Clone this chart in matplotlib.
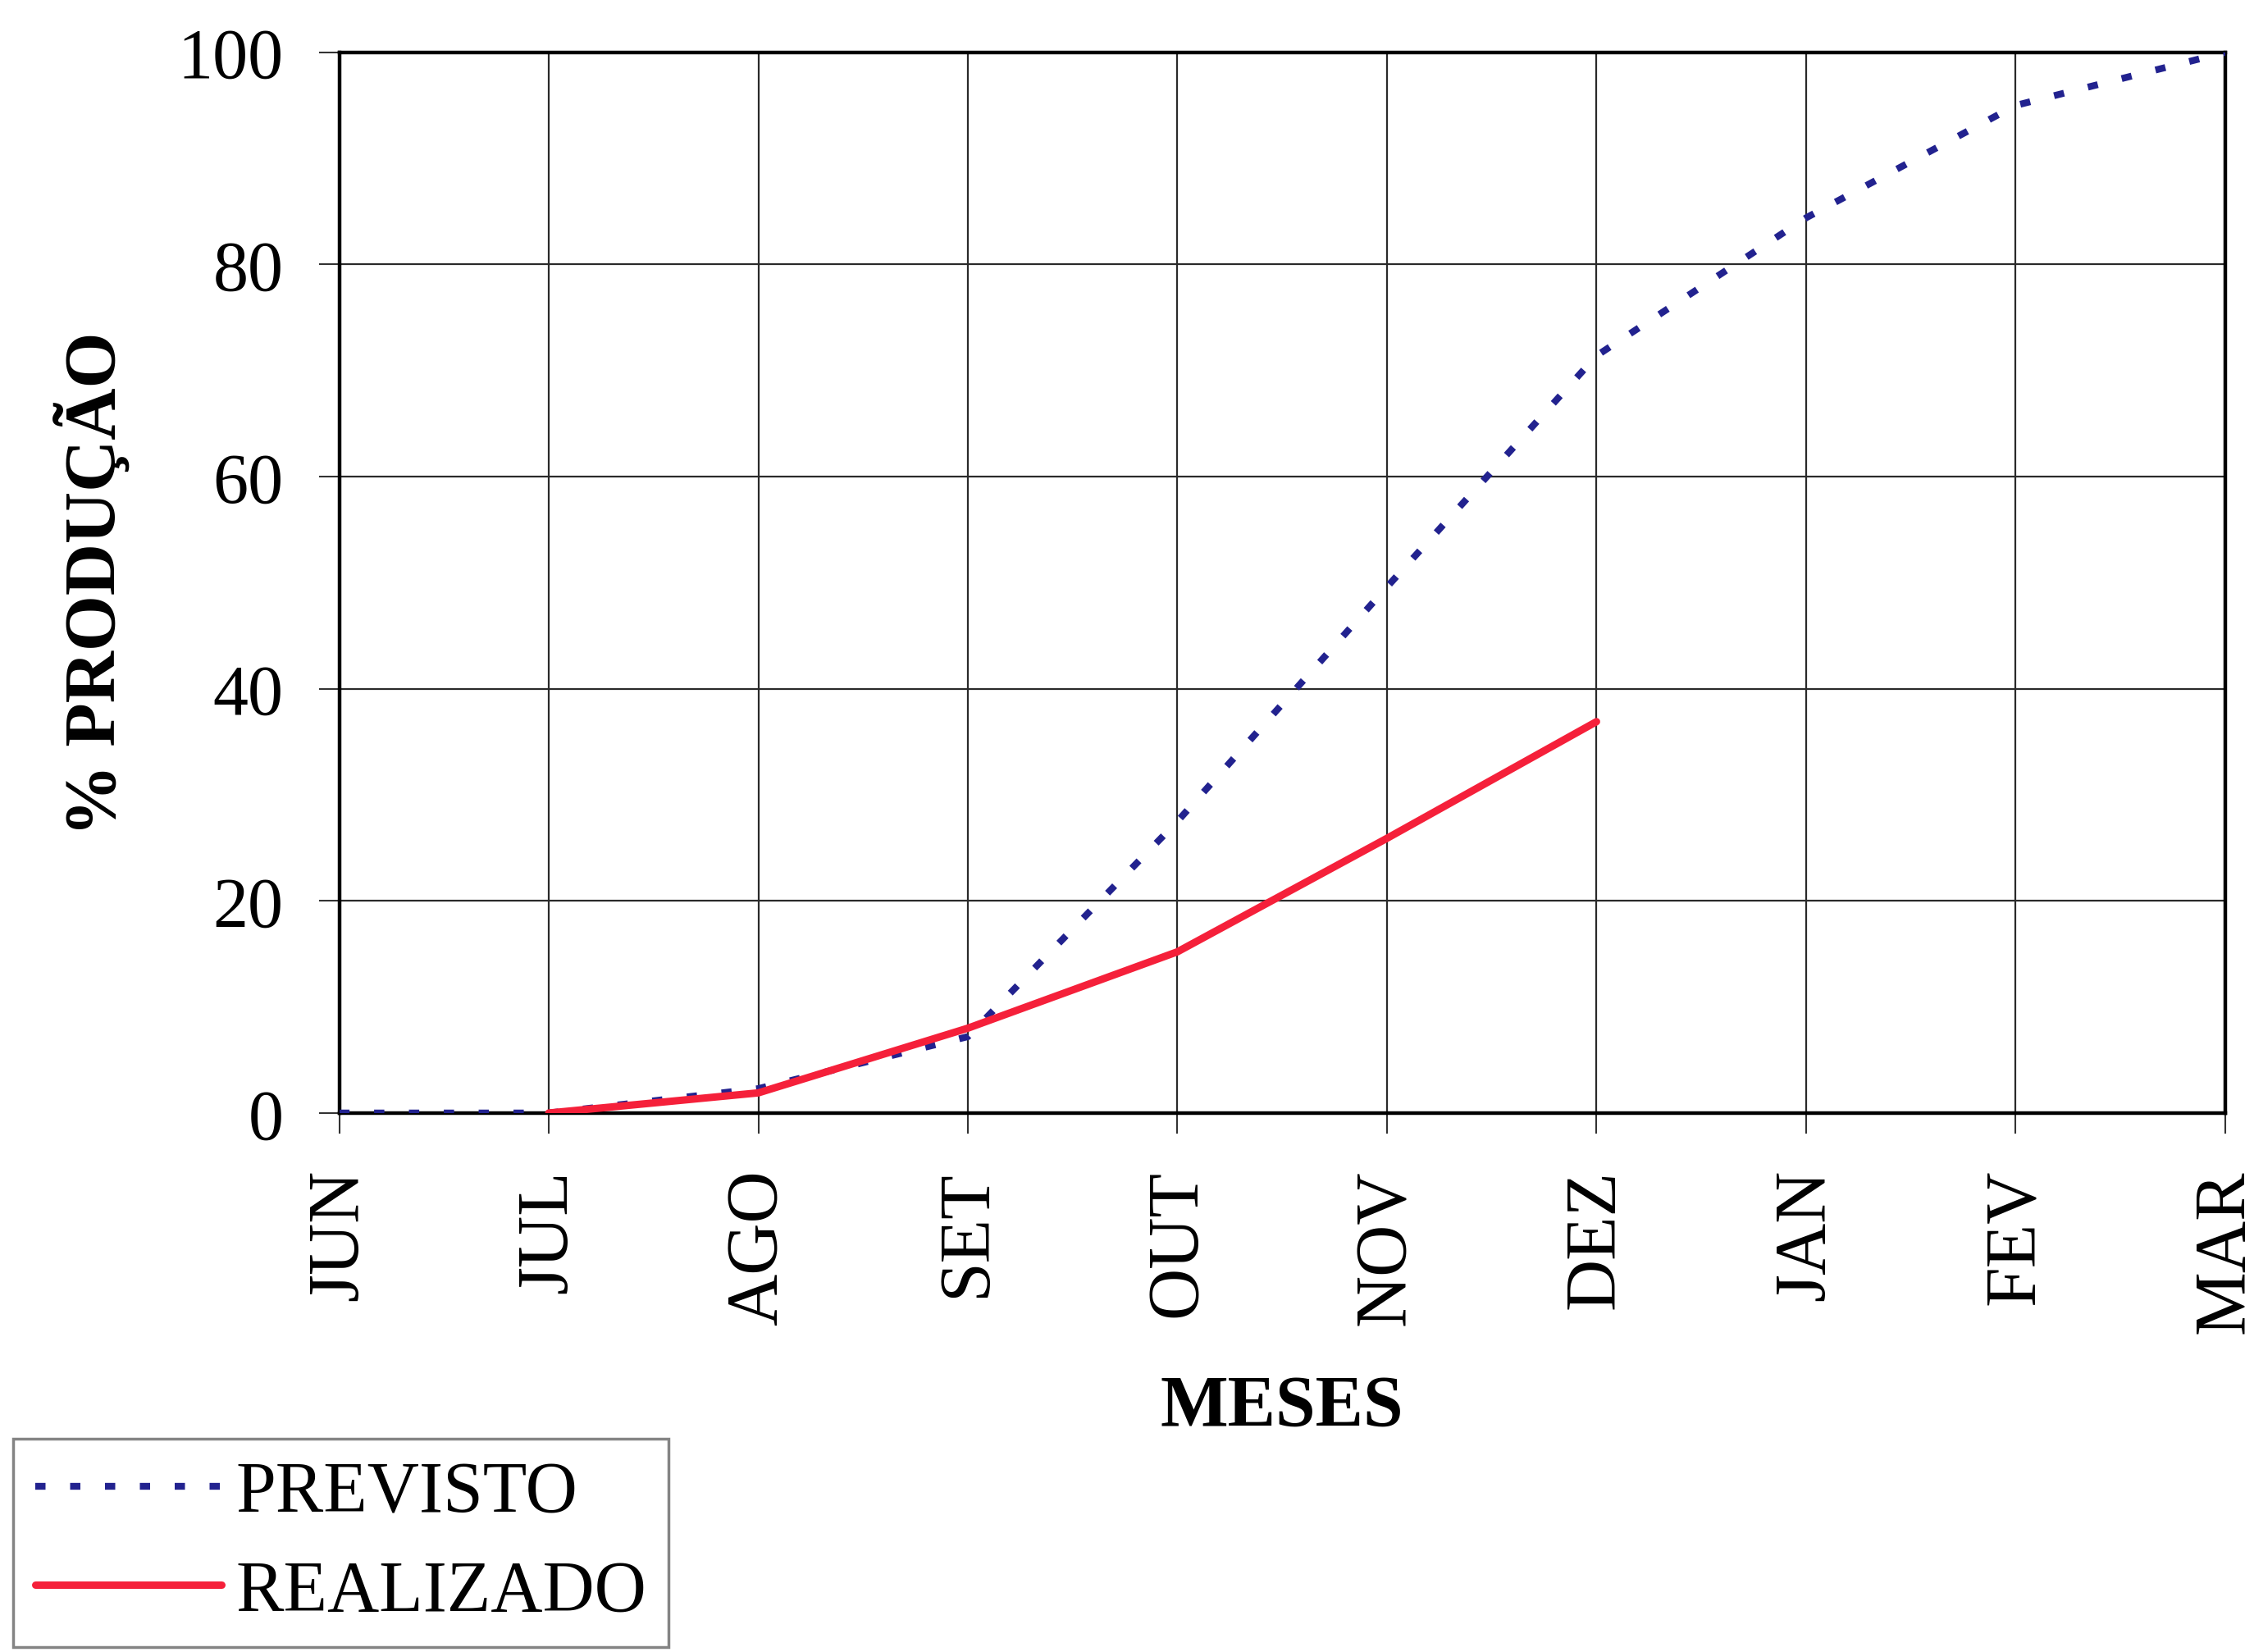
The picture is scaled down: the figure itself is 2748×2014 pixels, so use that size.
import numpy as np
import matplotlib
matplotlib.use('Agg')
import matplotlib.pyplot as plt

plt.rcParams['font.family'] = ['Liberation Serif', 'DejaVu Serif']

# months on the x axis
meses = ['JUN', 'JUL', 'AGO', 'SET', 'OUT', 'NOV', 'DEZ', 'JAN', 'FEV', 'MAR']
# % producao planned (whole period) and achieved (JUL..DEZ)
previsto = [0, 0, 2.3, 7.2, 27.5, 49.6, 71.4, 84.4, 95.0, 100]
realizado = [0, 1.9, 8.0, 15.2, 25.9, 36.9]
realizado_meses = meses[1:7]

y_ticks = [0, 20, 40, 60, 80, 100]

def plot_producao():
    fig = plt.figure(figsize=(27.48, 20.15), dpi=100)
    ax = fig.add_axes([0.1505, 0.3261, 0.8367, 0.6417])

    x_prev = np.arange(len(meses))
    x_real = np.array([meses.index(m) for m in realizado_meses])

    ax.plot(x_prev, previsto, color='#22228f', lw=6, dashes=(1.5, 3.6),
            dash_capstyle='butt', label='PREVISTO', zorder=3)
    ax.plot(x_real, realizado, color='#f5203a', lw=6.5, solid_capstyle='round',
            label='REALIZADO', zorder=4)

    ax.set_xlim(0, len(meses) - 1)
    ax.set_ylim(0, 100)
    ax.set_xticks(x_prev)
    ax.set_xticklabels(meses, rotation=90, fontsize=63)
    ax.set_yticks(y_ticks)
    ax.set_yticklabels([str(v) for v in y_ticks], fontsize=62)
    ax.tick_params(axis='both', length=18, width=1.5, color='#333333', pad=31)

    ax.grid(True, color='#2a2a2a', lw=1.6)
    ax.set_axisbelow(True)
    for s in ax.spines.values():
        s.set_linewidth(3.2)
        s.set_color('black')

    ax.set_ylabel('% PRODUÇÃO', fontsize=63, fontweight='bold', va='center')
    ax.yaxis.set_label_coords(-0.131, 0.5)
    ax.set_xlabel('MESES', fontsize=63, fontweight='bold', va='center')
    ax.xaxis.set_label_coords(0.5, -0.277)

    leg = fig.legend(loc='lower left', bbox_to_anchor=(0.006, 0.003),
                     bbox_transform=fig.transFigure, fontsize=63,
                     handlelength=2.6, handletextpad=0.2, labelspacing=0.45,
                     borderpad=0.3, borderaxespad=0, fancybox=False,
                     frameon=True)
    leg.get_frame().set_edgecolor('#666666')
    leg.get_frame().set_linewidth(2.5)

    fig.savefig('out.png', dpi=100)

plot_producao()
